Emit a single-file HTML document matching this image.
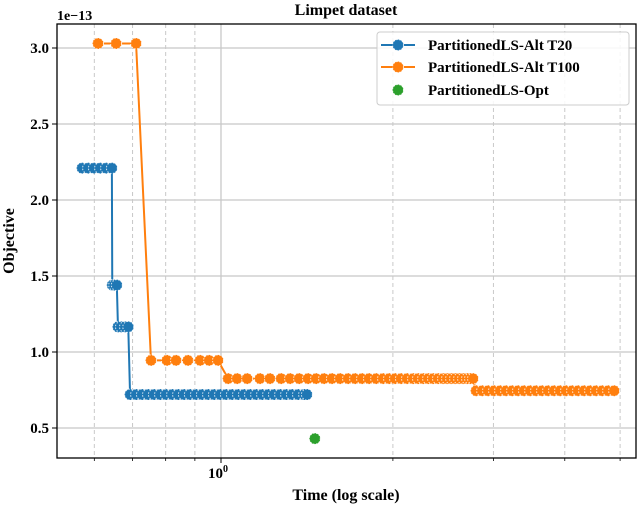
<!DOCTYPE html>
<html><head><meta charset="utf-8"><style>
body{margin:0;background:#fff;}
svg text{font-family:"Liberation Serif",serif;font-weight:bold;fill:#000;}
</style></head><body>
<svg id="chart" width="640" height="508" xmlns="http://www.w3.org/2000/svg">
<g id="grid"></g><g id="series"></g><g id="axes"></g>
<text x="346" y="15" text-anchor="middle" font-size="16">Limpet dataset</text>
<text x="57" y="20" font-size="14">1e−13</text>
<text x="346" y="500" text-anchor="middle" font-size="16">Time (log scale)</text>
<text transform="translate(14,241) rotate(-90)" text-anchor="middle" font-size="16">Objective</text>
<g>
<rect x="377" y="32" width="252" height="73" rx="3" fill="#fff" fill-opacity="0.85" stroke="#ccc"/>
<line x1="381" x2="415" y1="45" y2="45" stroke="#1f77b4" stroke-width="2"/><circle cx="398" cy="45" r="5.5" fill="#1f77b4" stroke="#fff" stroke-opacity="0.8" stroke-dasharray="1.5,1.5"/>
<text x="428" y="50" font-size="15">PartitionedLS-Alt T20</text>
<line x1="381" x2="415" y1="67" y2="67" stroke="#ff7f0e" stroke-width="2"/><circle cx="398" cy="67" r="5.5" fill="#ff7f0e" stroke="#fff" stroke-opacity="0.8" stroke-dasharray="1.5,1.5"/>
<text x="428" y="72" font-size="15">PartitionedLS-Alt T100</text>
<circle cx="398" cy="90" r="5.5" fill="#2ca02c" stroke="#fff" stroke-opacity="0.8" stroke-dasharray="1.5,1.5"/>
<text x="428" y="95" font-size="15">PartitionedLS-Opt</text>
</g>
</svg>
<script>
const yTicks=[0.5,1.0,1.5,2.0,2.5,3.0];
const yTickLabels=["0.5","1.0","1.5","2.0","2.5","3.0"];
const xMinorTicks=[0.6,0.7,0.8,0.9,2,3,4,5];
const xMajorTicks=[1];
const t20Times=[0.571,0.585,0.599,0.614,0.629,0.644,0.645,0.650,0.657,0.660,0.668,0.679,0.688,0.693,0.710,0.727,0.745,0.763,0.782,0.801,0.821,0.841,0.861,0.882,0.904,0.926,0.949,0.972,0.996,1.020,1.045,1.071,1.097,1.124,1.152,1.180,1.209,1.238,1.269,1.300,1.331,1.364,1.398,1.414];
const t20Values=[2.21,2.21,2.21,2.21,2.21,2.21,1.44,1.44,1.44,1.165,1.165,1.165,1.165,0.72,0.72,0.72,0.72,0.72,0.72,0.72,0.72,0.72,0.72,0.72,0.72,0.72,0.72,0.72,0.72,0.72,0.72,0.72,0.72,0.72,0.72,0.72,0.72,0.72,0.72,0.72,0.72,0.72,0.72,0.72];
const t100Times=[0.609,0.655,0.710,0.754,0.804,0.834,0.875,0.919,0.953,0.988,1.029,1.067,1.111,1.170,1.218,1.274,1.321,1.370,1.420,1.467,1.515,1.564,1.616,1.669,1.717,1.766,1.816,1.869,1.922,1.969,2.017,2.066,2.117,2.169,2.213,2.259,2.305,2.351,2.399,2.448,2.488,2.529,2.570,2.612,2.654,2.697,2.730,2.763,2.797,2.866,2.935,3.007,3.081,3.156,3.234,3.312,3.393,3.478,3.562,3.649,3.739,3.830,3.924,4.020,4.119,4.219,4.323,4.429,4.537,4.649,4.763,4.880];
const t100Values=[3.03,3.03,3.03,0.945,0.945,0.945,0.945,0.945,0.945,0.945,0.825,0.825,0.825,0.825,0.825,0.825,0.825,0.825,0.825,0.825,0.825,0.825,0.825,0.825,0.825,0.825,0.825,0.825,0.825,0.825,0.825,0.825,0.825,0.825,0.825,0.825,0.825,0.825,0.825,0.825,0.825,0.825,0.825,0.825,0.825,0.825,0.825,0.825,0.745,0.745,0.745,0.745,0.745,0.745,0.745,0.745,0.745,0.745,0.745,0.745,0.745,0.745,0.745,0.745,0.745,0.745,0.745,0.745,0.745,0.745,0.745,0.745];
const optTimes=[1.46];
const optValues=[0.43];

const L=57,R=636,T=24,B=458;
const xs=t=>221+571*Math.log10(t);
const ys=v=>48+(3.0-v)*152;
const NS="http://www.w3.org/2000/svg";
function mk(parent,tag,attrs){const e=document.createElementNS(NS,tag);for(const k in attrs)e.setAttribute(k,attrs[k]);document.getElementById(parent).appendChild(e);return e;}

xMinorTicks.forEach(t=>{const e=mk('grid','line',{x1:xs(t),x2:xs(t),y1:T,y2:B,stroke:'#c8c8c8','stroke-width':1,'stroke-dasharray':'4,3'});


const k=mk('axes','line',{x1:xs(t),x2:xs(t),y1:B,y2:B+3,stroke:'#000','stroke-width':0.8});

});
xMajorTicks.forEach(t=>{const e=mk('grid','line',{x1:xs(t),x2:xs(t),y1:T,y2:B,stroke:'#c8c8c8','stroke-width':1.3});


const k=mk('axes','line',{x1:xs(t),x2:xs(t),y1:B,y2:B+5,stroke:'#000','stroke-width':1});


const lb=mk('axes','text',{x:xs(t)-3,y:B+20,'text-anchor':'middle','font-size':15});


lb.innerHTML='10<tspan dy="-6" font-size="10">0</tspan>';});
yTicks.forEach((v,i)=>{const e=mk('grid','line',{x1:L,x2:R,y1:ys(v),y2:ys(v),stroke:'#c8c8c8','stroke-width':1.3});


const k=mk('axes','line',{x1:L-5,x2:L,y1:ys(v),y2:ys(v),stroke:'#000','stroke-width':1});


const lb=mk('axes','text',{x:L-8,y:ys(v)+5,'text-anchor':'end','font-size':15});


lb.textContent=yTickLabels[i];});

function series(times,vals,color,name){
 const pts=times.map((t,i)=>xs(t)+','+ys(vals[i])).join(' ');
 const pl=mk('series','polyline',{points:pts,fill:'none',stroke:color,'stroke-width':2});
 
 
 times.forEach((t,i)=>{const c=mk('series','circle',{cx:xs(t),cy:ys(vals[i]),r:5.5,fill:color,stroke:'#fff','stroke-opacity':0.8,'stroke-width':1,'stroke-dasharray':'1.5,1.5'});
 
 });
}
series(t20Times,t20Values,'#1f77b4','t20');
series(t100Times,t100Values,'#ff7f0e','t100');
optTimes.forEach((t,i)=>{const c=mk('series','circle',{cx:xs(t),cy:ys(optValues[i]),r:5.5,fill:'#2ca02c',stroke:'#fff','stroke-opacity':0.8,'stroke-width':1,'stroke-dasharray':'1.5,1.5'});

});

const fr=mk('axes','rect',{x:L,y:T,width:R-L,height:B-T,fill:'none',stroke:'#000','stroke-width':1.3});


</script>
</body></html>
